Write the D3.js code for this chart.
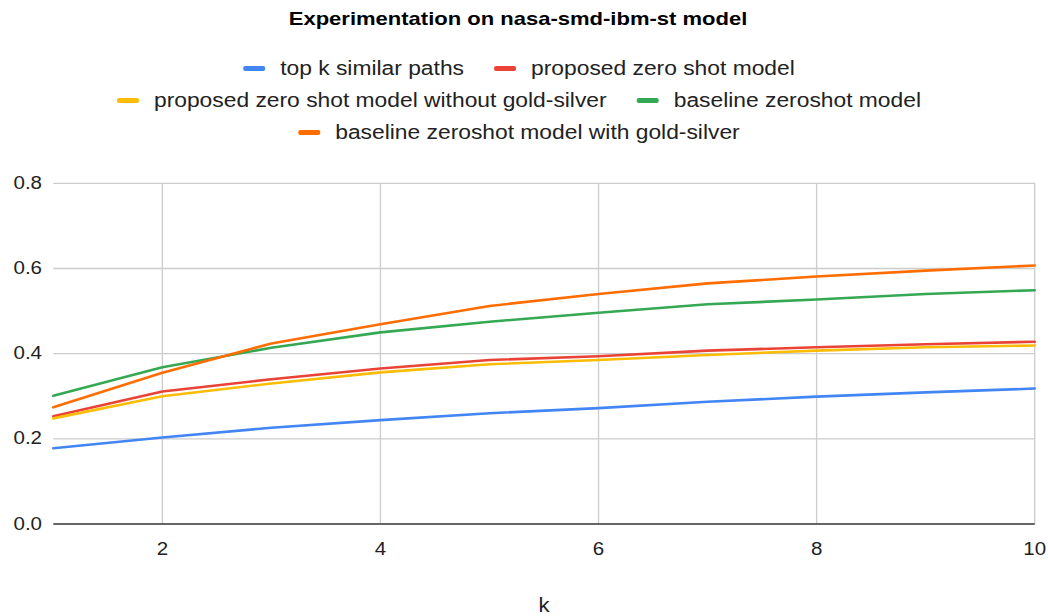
<!DOCTYPE html>
<html>
<head>
<meta charset="utf-8">
<script src="https://cdn.jsdelivr.net/npm/d3@7"></script>
<style>
  html, body { margin: 0; padding: 0; background: #fff; }
  svg { display: block; }
  text { font-family: "Liberation Sans", Arial, sans-serif; }
</style>
</head>
<body>
<svg id="chart" width="1048" height="616"></svg>
<script>
const kValues = [1, 2, 3, 4, 5, 6, 7, 8, 9, 10];
const seriesNames = [
  "top k similar paths",
  "proposed zero shot model",
  "proposed zero shot model without gold-silver",
  "baseline zeroshot model",
  "baseline zeroshot model with gold-silver"
];
const seriesColors = ["#4285F4", "#EA4335", "#FBBC04", "#34A853", "#FF6D01"];
const topKSimilar      = [0.178, 0.203, 0.226, 0.244, 0.260, 0.272, 0.287, 0.299, 0.309, 0.318];
const proposedZeroShot = [0.253, 0.311, 0.340, 0.365, 0.385, 0.394, 0.407, 0.415, 0.422, 0.428];
const proposedNoGold   = [0.248, 0.300, 0.330, 0.356, 0.375, 0.385, 0.397, 0.407, 0.415, 0.419];
const baselineZeroShot = [0.301, 0.368, 0.414, 0.450, 0.475, 0.496, 0.516, 0.527, 0.540, 0.549];
const baselineGold     = [0.274, 0.355, 0.424, 0.469, 0.512, 0.540, 0.565, 0.581, 0.595, 0.607];
const seriesValues = [topKSimilar, proposedZeroShot, proposedNoGold, baselineZeroShot, baselineGold];
const yTicks = [0, 0.2, 0.4, 0.6, 0.8];
const xTicks = [2, 4, 6, 8, 10];
const legendRows = [[0, 1], [2, 3], [4]];
const titleText = "Experimentation on nasa-smd-ibm-st model";
const xAxisTitle = "k";

const svg = d3.select("#chart");

const x = d3.scaleLinear().domain([1, 10]).range([53.3, 1034.7]);
const y = d3.scaleLinear().domain([0, 0.8]).range([524, 183.3]);

// helper: text stretched horizontally (reference glyphs are wider than the font)
function sText(parent, px, py, str, size, sx, anchor, weight) {
  return parent.append("text")
    .attr("transform", `translate(${px},${py}) scale(${sx},1)`)
    .attr("text-anchor", anchor || "start")
    .attr("font-size", size)
    .attr("font-weight", weight || "normal")
    .attr("fill", "#222")
    .text(str);
}

// Title
sText(svg, 518, 25, titleText, 18.5, 1.19, "middle", "bold").attr("fill", "#000");

// Horizontal gridlines
svg.append("g").selectAll("line")
  .data(yTicks.filter(d => d !== 0))
  .join("line")
  .attr("x1", x(1)).attr("x2", x(10))
  .attr("y1", d => y(d)).attr("y2", d => y(d))
  .attr("stroke", "#cccccc").attr("stroke-width", 1.3);

// Vertical gridlines
svg.append("g").selectAll("line")
  .data(xTicks)
  .join("line")
  .attr("x1", d => x(d)).attr("x2", d => x(d))
  .attr("y1", y(0.8)).attr("y2", y(0))
  .attr("stroke", "#cccccc").attr("stroke-width", 1.3);

// Y tick labels
const yl = svg.append("g");
yTicks.forEach(d => sText(yl, 42, y(d) + 5.5, d3.format(".1f")(d), 19, 1.08, "end"));

// X tick labels
const xl = svg.append("g");
xTicks.forEach(d => sText(xl, x(d), 555, String(d), 19, 1.08, "middle"));

// X axis title
sText(svg, 544, 611.5, xAxisTitle, 20.5, 1.08, "middle");

// Lines
const line = d3.line()
  .x((d, i) => x(kValues[i]))
  .y(d => y(d));

svg.append("g").selectAll("path")
  .data(seriesValues)
  .join("path")
  .attr("d", d => line(d))
  .attr("fill", "none")
  .attr("stroke", (d, i) => seriesColors[i])
  .attr("stroke-width", 2.6)
  .attr("stroke-linejoin", "round")
  .attr("stroke-linecap", "round");

// Baseline (zero)
svg.append("line")
  .attr("x1", x(1)).attr("x2", x(10))
  .attr("y1", y(0)).attr("y2", y(0))
  .attr("stroke", "#333").attr("stroke-width", 1.5);

// Legend
const legendY = [68.5, 100.5, 132.5];
const swW = 22, swH = 5, swGap = 15, itemGap = 30, centerX = 519;
const legendFont = 19.5, legendSx = 1.17;
legendRows.forEach((row, r) => {
  const g = svg.append("g");
  const widths = row.map(i => {
    const t = g.append("text").attr("font-size", legendFont).text(seriesNames[i]);
    const w = t.node().getComputedTextLength() * legendSx;
    t.remove();
    return w;
  });
  const total = widths.reduce((a, w) => a + swW + swGap + w, 0) + itemGap * (row.length - 1);
  let cx = centerX - total / 2;
  row.forEach((i, j) => {
    g.append("rect")
      .attr("x", cx).attr("y", legendY[r] - swH / 2)
      .attr("width", swW).attr("height", swH)
      .attr("rx", 2).attr("fill", seriesColors[i]);
    sText(g, cx + swW + swGap, legendY[r] + 6, seriesNames[i], legendFont, legendSx, "start");
    cx += swW + swGap + widths[j] + itemGap;
  });
});
</script>
</body>
</html>
